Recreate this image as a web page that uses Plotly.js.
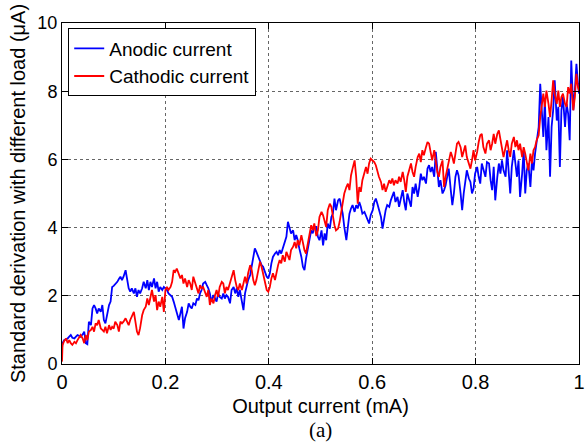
<!DOCTYPE html>
<html>
<head>
<meta charset="utf-8">
<script src="https://cdn.plot.ly/plotly-3.0.1.min.js"></script>
<style>html,body{margin:0;padding:0;background:#fff}#chart{width:586px;height:446px}</style>
</head>
<body>
<div id="chart"></div>
<script>
// Output current (mA)
const outputCurrent = [0,
0.001,0.004,0.008,0.011,0.014,0.017,0.020,0.024,0.027,0.030,0.033,0.036,0.040,0.043,0.046,0.049,0.052,0.056,0.059,0.062,0.065,0.068,0.071,0.075,0.078,0.081,0.084,0.087,0.091,0.094,0.097,0.100,0.103,0.107,0.110,0.113,0.116,0.119,0.123,0.126,0.129,0.132,0.135,0.139,0.142,0.145,0.148,0.151,0.155,
0.158,0.162,0.165,0.168,0.171,0.174,0.178,0.181,0.184,0.187,0.190,0.194,0.197,0.200,0.203,0.206,0.210,0.213,0.216,0.219,0.222,0.226,0.229,0.232,0.235,0.238,0.242,0.245,0.248,0.251,0.254,0.258,0.261,0.264,0.267,0.270,0.273,0.277,0.280,0.283,0.286,0.289,0.293,0.296,0.299,0.302,0.305,0.309,0.312,0.315,0.318,0.321,
0.325,0.328,0.332,0.335,0.338,0.341,0.344,0.348,0.351,0.354,0.357,0.360,0.364,0.367,0.370,0.373,0.376,0.380,0.383,0.386,0.389,0.392,0.396,0.399,0.402,0.405,0.408,0.412,0.415,0.418,0.421,0.424,0.427,0.431,0.434,0.437,0.440,0.443,0.447,0.450,0.453,0.456,0.459,0.463,0.466,0.469,0.472,0.475,0.479,0.482,0.485,0.488,
0.492,0.495,0.498,0.502,0.505,0.508,0.511,0.514,0.518,0.521,0.524,0.527,0.530,0.534,0.537,0.540,0.543,0.546,0.550,0.553,0.556,0.559,0.562,0.566,0.569,0.572,0.575,0.578,0.581,0.585,0.588,0.591,0.594,0.597,0.601,0.604,0.607,0.610,0.613,0.617,0.620,0.623,0.626,0.629,0.633,0.636,0.639,0.642,0.645,0.649,0.652,0.655,
0.659,0.662,0.665,0.668,0.672,0.675,0.678,0.681,0.684,0.688,0.691,0.694,0.697,0.700,0.704,0.707,0.710,0.713,0.716,0.720,0.723,0.726,0.729,0.732,0.736,0.739,0.742,0.745,0.748,0.752,0.755,0.758,0.761,0.764,0.767,0.771,0.774,0.777,0.780,0.783,0.787,0.790,0.793,0.796,0.799,0.803,0.806,0.809,0.812,0.815,0.819,0.822,
0.826,0.829,0.832,0.835,0.838,0.842,0.845,0.848,0.851,0.854,0.858,0.861,0.864,0.867,0.870,0.874,0.877,0.880,0.883,0.886,0.890,0.893,0.896,0.899,0.902,0.906,0.909,0.912,0.915,0.918,0.922,0.925,0.928,0.931,0.934,0.937,0.941,0.944,0.947,0.950,0.953,0.957,0.960,0.963,0.966,0.969,0.973,0.976,0.979,0.982,0.985,0.989,0.992,0.995,0.998,1.000];

// Standard deviation, anodic current (uA)
const anodic = [0.45,
0.61,0.70,0.73,0.75,0.80,0.85,0.77,0.75,0.80,0.85,0.83,0.80,0.87,0.95,0.61,0.58,1.24,1.14,1.63,1.73,1.63,1.48,1.63,1.53,1.73,1.29,1.19,1.43,1.73,1.83,2.26,2.29,2.33,2.41,2.49,2.56,2.46,2.56,2.75,2.46,2.22,2.12,2.22,2.07,2.22,1.97,2.17,2.07,2.22,
2.41,2.22,2.46,2.17,2.41,2.26,2.51,2.22,2.41,2.12,2.26,2.17,2.26,2.22,2.17,2.07,2.02,1.97,1.83,1.68,1.53,1.29,1.48,1.68,1.04,1.34,1.53,1.78,1.68,1.63,1.78,1.73,1.92,1.87,2.07,2.17,2.36,2.41,2.31,2.22,2.07,1.83,2.02,1.92,1.83,2.07,1.97,1.92,2.07,1.92,2.02,1.97,
1.78,2.17,2.26,2.07,2.22,1.97,2.17,1.83,1.58,2.07,2.26,2.46,2.61,2.85,3.14,3.39,3.29,3.14,3.00,2.90,2.85,2.70,2.56,2.51,2.66,2.95,3.14,3.24,3.29,3.19,3.34,3.24,3.39,3.63,3.73,4.17,4.02,3.83,3.92,3.63,3.78,3.63,3.39,3.14,2.85,2.75,3.09,3.34,3.63,3.92,3.83,4.02,
4.02,3.73,3.63,3.92,3.48,3.83,3.63,4.12,3.97,4.31,4.41,4.85,4.51,4.80,4.85,4.66,4.41,4.02,3.63,4.02,4.41,4.56,4.66,4.46,4.66,4.56,4.75,4.61,4.41,4.46,4.36,4.27,4.12,4.36,4.51,4.75,4.85,4.70,4.51,4.31,3.97,4.27,4.51,4.66,4.61,4.80,4.95,5.05,4.75,4.90,4.61,4.85,
5.10,4.75,4.51,5.00,4.80,4.61,5.19,5.00,5.29,4.90,5.19,5.58,5.39,5.49,5.29,5.73,5.83,5.63,5.78,5.49,6.22,5.68,5.19,5.39,5.00,5.10,5.24,5.49,5.73,5.10,4.66,5.00,5.49,5.68,5.53,5.00,4.51,5.00,5.39,5.68,5.44,5.34,5.00,5.14,5.58,5.78,5.49,5.29,5.88,5.73,5.49,5.92,
5.88,5.39,5.10,5.78,4.80,5.49,5.88,5.58,5.97,5.68,5.49,6.27,5.68,5.00,5.78,6.27,5.88,5.49,5.97,4.90,5.58,6.27,5.00,5.68,5.88,5.19,5.97,5.68,6.17,6.46,6.95,8.22,7.44,6.66,7.73,6.27,7.24,5.49,6.95,7.44,8.32,7.14,7.54,5.78,7.44,7.83,6.95,7.63,7.34,6.56,8.90,7.44,8.02,8.80,8.22,7.93];

// Standard deviation, cathodic current (uA)
const cathodic = [0.07,
0.55,0.67,0.75,0.61,0.70,0.61,0.56,0.65,0.61,0.70,0.80,0.85,0.75,0.61,0.85,0.70,0.95,1.00,1.09,0.95,1.19,1.14,1.29,1.04,1.00,0.95,1.09,0.90,1.14,1.00,1.09,1.04,1.24,1.14,0.95,1.24,1.19,1.24,1.34,1.24,1.14,1.29,1.39,1.53,1.24,0.95,0.85,1.05,1.43,
1.58,1.68,1.92,1.73,2.02,2.17,1.83,2.02,1.58,1.83,1.68,1.97,1.53,2.17,2.26,2.17,2.26,2.41,2.75,2.70,2.80,2.66,2.51,2.61,2.36,2.51,2.26,2.46,2.36,2.17,2.56,2.36,2.17,2.07,2.31,2.22,2.26,2.12,1.97,2.17,1.73,1.92,1.78,2.02,2.17,1.97,2.26,2.41,2.36,2.07,2.26,2.17,
2.36,2.51,2.75,2.46,2.26,2.17,2.36,2.17,2.41,2.56,2.36,2.66,2.90,2.75,2.46,2.31,2.46,2.85,3.00,2.85,2.66,2.46,2.17,2.12,2.26,2.51,2.66,2.46,2.70,2.90,3.05,2.95,3.19,3.00,3.29,3.14,3.05,3.34,3.44,3.58,3.39,3.63,3.48,3.78,3.58,3.34,3.24,3.53,3.83,4.07,3.92,4.12,
3.75,3.92,4.31,4.46,4.36,4.17,4.02,4.51,4.70,4.61,4.31,4.07,3.92,3.97,4.17,4.41,4.70,5.00,5.19,5.29,5.10,5.53,5.73,5.97,5.49,4.70,5.19,5.05,5.39,5.63,5.78,5.58,5.88,6.02,5.97,5.92,5.83,5.63,5.49,5.34,5.10,5.29,5.05,5.19,5.39,5.29,5.44,5.24,5.39,5.29,5.49,5.34,
5.63,5.39,5.05,5.49,5.73,5.88,5.63,5.49,5.78,6.07,6.17,5.92,6.27,6.12,6.36,6.51,6.46,6.17,5.97,6.27,5.88,5.63,5.49,5.78,5.97,5.19,5.49,5.73,6.02,6.22,6.07,5.88,6.17,6.46,6.51,6.36,6.07,6.27,6.41,6.07,5.88,5.73,5.97,6.27,5.97,6.22,6.51,6.71,6.75,6.36,6.17,6.46,
6.56,6.27,6.46,6.75,6.46,6.75,6.85,6.56,6.27,6.07,6.36,6.56,6.27,6.07,6.46,6.66,6.36,6.56,6.27,6.46,6.07,6.36,6.17,5.88,5.68,6.17,5.88,6.27,6.36,6.56,6.71,7.24,7.54,7.93,7.54,8.02,7.63,7.24,7.73,8.32,7.93,7.63,8.02,7.54,7.83,7.93,7.63,7.54,8.12,7.93,8.22,7.44,7.83,8.51,8.12,8.02];

const seriesNames = ['Anodic current', 'Cathodic current'];
const xTitle = 'Output current (mA)';
const yTitle = 'Standard derivation with different load (\u03bcA)';
const caption = '(a)';

const font = 'Liberation Sans, Arial, sans-serif';

const traces = [
  {x: outputCurrent, y: anodic, name: seriesNames[0], type: 'scatter', mode: 'lines',
   line: {color: '#0000ff', width: 1.8}},
  {x: outputCurrent, y: cathodic, name: seriesNames[1], type: 'scatter', mode: 'lines',
   line: {color: '#ff0000', width: 1.8}}
];

const axisCommon = {
  showline: true, linecolor: '#000', linewidth: 1, mirror: 'ticks',
  ticks: 'inside', ticklen: 6, tickcolor: '#000', tickwidth: 1,
  showgrid: true, gridcolor: '#666', griddash: 'dot', gridwidth: 1,
  zeroline: false, ticklabeloverflow: 'allow'
};

const layout = {
  width: 586, height: 446,
  margin: {l: 62, r: 7, t: 23, b: 82},
  paper_bgcolor: '#fff', plot_bgcolor: '#fff',
  showlegend: true,
  legend: {x: 0.012, y: 0.984, xanchor: 'left', yanchor: 'top',
    bgcolor: '#fff', bordercolor: '#000', borderwidth: 1,
    font: {family: font, size: 19, color: '#000'}, tracegroupgap: 0},
  xaxis: Object.assign({}, axisCommon, {
    range: [0, 1], dtick: 0.2, tick0: 0,
    tickfont: {family: font, size: 20, color: '#000'},
    title: {text: xTitle, font: {family: font, size: 20, color: '#000'}, standoff: 6}
  }),
  yaxis: Object.assign({}, axisCommon, {
    range: [0, 10], dtick: 2, tick0: 0,
    tickfont: {family: font, size: 18, color: '#000'},
    title: {text: yTitle, font: {family: font, size: 20, color: '#000'}, standoff: 6}
  }),
  annotations: [{
    text: caption, xref: 'paper', yref: 'paper', x: 0.5, y: 0, yshift: -66,
    xanchor: 'center', yanchor: 'middle', showarrow: false,
    font: {family: 'Liberation Serif, Times New Roman, serif', size: 21, color: '#000'}
  }]
};

Plotly.newPlot('chart', traces, layout, {displayModeBar: false, staticPlot: true});
</script>
</body>
</html>
